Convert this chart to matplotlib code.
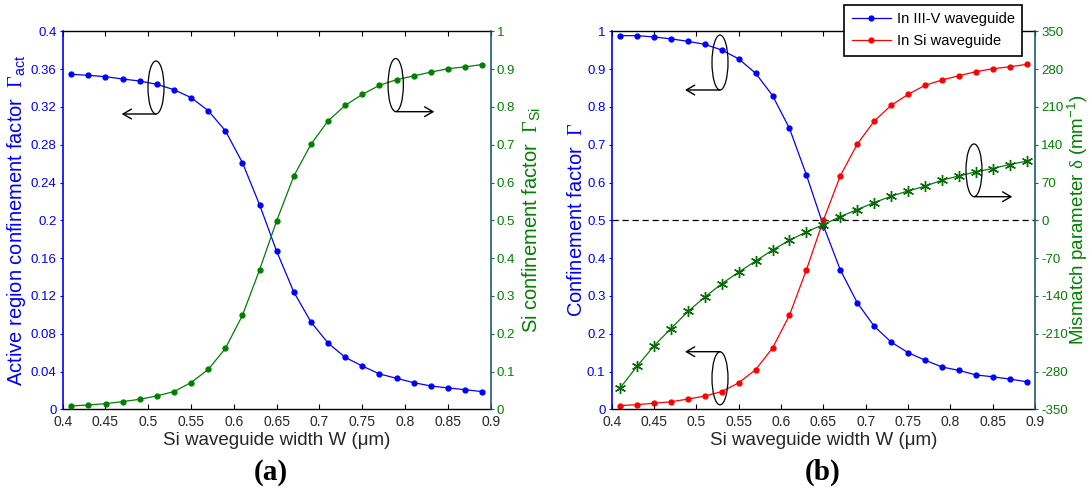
import matplotlib
matplotlib.use("Agg")
import matplotlib.pyplot as plt
from matplotlib.patches import Ellipse, FancyArrowPatch
import numpy as np

plt.rcParams['font.family'] = ['Liberation Sans', 'DejaVu Sans']
plt.rcParams['mathtext.fontset'] = 'custom'
plt.rcParams['mathtext.rm'] = 'Liberation Sans'
plt.rcParams['mathtext.it'] = 'Liberation Sans:italic'
plt.rcParams['mathtext.sf'] = 'Liberation Serif'

# ---------------- data ----------------
width_um = [0.41, 0.43, 0.45, 0.47, 0.49, 0.51, 0.53, 0.55, 0.57, 0.59, 0.61, 0.63,
            0.65, 0.67, 0.69, 0.71, 0.73, 0.75, 0.77, 0.79, 0.81, 0.83, 0.85, 0.87, 0.89]

# (a)
gamma_act = [0.3545, 0.3534, 0.352, 0.3495, 0.3474, 0.3439, 0.3382, 0.3298, 0.316, 0.2948,
             0.2609, 0.2164, 0.1671, 0.1241, 0.0924, 0.0701, 0.055, 0.0458, 0.0374, 0.0328,
             0.0282, 0.0247, 0.0226, 0.0208, 0.0187]
gamma_si_a = [0.0088, 0.0115, 0.015, 0.0204, 0.0265, 0.0354, 0.0469, 0.0708, 0.1053, 0.161,
              0.2487, 0.369, 0.499, 0.617, 0.701, 0.763, 0.804, 0.833, 0.857, 0.872,
              0.882, 0.892, 0.901, 0.906, 0.912]

# (b)
gamma_iiiv = [0.9885, 0.9885, 0.985, 0.980, 0.9735, 0.9655, 0.9505, 0.927, 0.889, 0.830,
              0.743, 0.620, 0.486, 0.369, 0.282, 0.220, 0.178, 0.150, 0.130, 0.112,
              0.103, 0.091, 0.086, 0.080, 0.073]
gamma_si_b = [0.0097, 0.0124, 0.016, 0.020, 0.027, 0.035, 0.047, 0.070, 0.105, 0.162,
              0.249, 0.369, 0.500, 0.6175, 0.7014, 0.762, 0.804, 0.833, 0.857, 0.871,
              0.8825, 0.893, 0.901, 0.906, 0.9125]
delta_mm = [-310.4, -270.2, -232.5, -200.4, -168.8, -142.2, -117.5, -95.9, -75.4, -55.0,
            -37.0, -21.5, -8.0, 6.8, 19.8, 32.8, 44.5, 54.4, 63.1, 74.2,
            82.2, 89.7, 95.8, 103.3, 109.5]

xticks = [0.4, 0.45, 0.5, 0.55, 0.6, 0.65, 0.7, 0.75, 0.8, 0.85, 0.9]
xtick_labels = ['0.4', '0.45', '0.5', '0.55', '0.6', '0.65', '0.7', '0.75', '0.8', '0.85', '0.9']
yticks_act = [0, 0.04, 0.08, 0.12, 0.16, 0.2, 0.24, 0.28, 0.32, 0.36, 0.4]
yticks_act_labels = ['0', '0.04', '0.08', '0.12', '0.16', '0.2', '0.24', '0.28', '0.32', '0.36', '0.4']
yticks_frac = [0, 0.1, 0.2, 0.3, 0.4, 0.5, 0.6, 0.7, 0.8, 0.9, 1]
yticks_frac_labels = ['0', '0.1', '0.2', '0.3', '0.4', '0.5', '0.6', '0.7', '0.8', '0.9', '1']
yticks_delta = [-350, -280, -210, -140, -70, 0, 70, 140, 210, 280, 350]

# ---------------- style ----------------
BLUE = '#0000ff'
RED = '#ff0000'
GREEN = '#008000'
TEAL = '#1d5a78'
DARK = '#262626'
W, H = 1091, 491
LABEL_FS = 14.5
XLABEL_FS = 13.5

fig = plt.figure(figsize=(W / 100, H / 100), dpi=100)

def px_axes(l, t, r, b):
    return fig.add_axes([l / W, 1 - b / H, (r - l) / W, (b - t) / H])

def style_axes(ax, ax2, lcolor, rcolor):
    ax.set_xlim(0.4, 0.9)
    ax.set_xticks(xticks)
    ax.set_xticklabels(xtick_labels)
    ax.tick_params(axis='x', direction='in', top=True, length=3.5, width=0.8,
                   labelsize=10, labelcolor=DARK, pad=4)
    ax.tick_params(axis='y', direction='out', length=2.5, width=0.8, color=lcolor,
                   labelsize=9.5, labelcolor=lcolor, pad=2)
    ax2.tick_params(axis='y', direction='out', length=2.5, width=0.8, color=rcolor,
                    labelsize=9.5, labelcolor=GREEN, pad=2)
    for sp in ['top', 'bottom']:
        ax.spines[sp].set_color('black')
        ax.spines[sp].set_linewidth(1.0)
    ax.spines['left'].set_color(BLUE)
    ax.spines['left'].set_linewidth(1.2)
    ax.spines['right'].set_visible(False)
    for sp in ['top', 'bottom', 'left']:
        ax2.spines[sp].set_visible(False)
    ax2.spines['right'].set_color(rcolor)
    ax2.spines['right'].set_linewidth(1.2)

def fx(x):
    return x / W

def fy(y):
    return 1 - y / H

def ellipse_arrow(cx, cy, w, h, y_arrow, x_end):
    e = Ellipse((fx(cx), fy(cy)), w / W, h / H, transform=fig.transFigure,
                fill=False, edgecolor='black', linewidth=0.9, zorder=10)
    fig.add_artist(e)
    arr = FancyArrowPatch((fx(cx), fy(y_arrow)), (fx(x_end), fy(y_arrow)),
                          transform=fig.transFigure,
                          arrowstyle='->,head_length=6,head_width=3.5',
                          color='black', lw=1.0, shrinkA=0, shrinkB=0, zorder=10)
    fig.add_artist(arr)

# ---------------- (a) ----------------
axa = px_axes(62.7, 31.3, 490.7, 409.3)
axa2 = axa.twinx()
axa.plot(width_um, gamma_act, color=BLUE, lw=0.9, marker='o', ms=3.5)
axa2.plot(width_um, gamma_si_a, color=GREEN, lw=0.9, marker='o', ms=3.5)
axa.set_ylim(0, 0.4)
axa.set_yticks(yticks_act)
axa.set_yticklabels(yticks_act_labels)
axa2.set_ylim(0, 1)
axa2.set_yticks(yticks_frac)
axa2.set_yticklabels(yticks_frac_labels)
style_axes(axa, axa2, BLUE, TEAL)
axa.set_xlabel('Si waveguide width W (μm)', fontsize=XLABEL_FS, color=DARK)
axa.set_ylabel(r'Active region confinement factor  $\mathsf{\Gamma}_{\mathrm{act}}$',
               fontsize=LABEL_FS, color=BLUE)
axa2.set_ylabel(r'Si confinement factor  $\mathsf{\Gamma}_{\mathrm{Si}}$',
                fontsize=LABEL_FS, color=GREEN)

# ---------------- (b) ----------------
axb = px_axes(611.7, 31.3, 1035.0, 409.3)
axb2 = axb.twinx()
axb.axhline(0.5, color='black', lw=0.9, ls=(0, (5, 3)), zorder=1)
lb1, = axb.plot(width_um, gamma_iiiv, color=BLUE, lw=0.9, marker='o', ms=3.5,
                label='In III-V waveguide')
lb2, = axb.plot(width_um, gamma_si_b, color=RED, lw=0.9, marker='o', ms=3.5,
                label='In Si waveguide')
axb2.plot(width_um, delta_mm, color=GREEN, lw=0.9, marker=(6, 2, 0), ms=8,
          mec='#0a6a0a', mew=1.0)
axb.set_ylim(0, 1)
axb.set_yticks(yticks_frac)
axb.set_yticklabels(yticks_frac_labels)
axb2.set_ylim(-350, 350)
axb2.set_yticks(yticks_delta)
axb2.set_yticklabels([str(v) for v in yticks_delta])
style_axes(axb, axb2, BLUE, TEAL)
axb.set_xlabel('Si waveguide width W (μm)', fontsize=XLABEL_FS, color=DARK)
axb.set_ylabel(r'Confinement factor  $\mathsf{\Gamma}$', fontsize=LABEL_FS, color=BLUE)
axb2.set_ylabel(r'Mismatch parameter $\mathsf{\delta}$ (mm$^{-1}$)', fontsize=13.5,
                color=GREEN)

leg = axb.legend(handles=[lb1, lb2], loc='upper right',
                 bbox_to_anchor=(fx(1022), fy(5)), bbox_transform=fig.transFigure,
                 fontsize=10.5, frameon=True, fancybox=False, framealpha=1,
                 edgecolor='black', handlelength=2.7, borderpad=0.5,
                 labelspacing=0.55, handletextpad=0.4, borderaxespad=0)
leg.get_frame().set_linewidth(1.2)
leg.set_zorder(20)

# label positions
for ax, xc in [(axa, -0.107), (axb, -0.084)]:
    ax.yaxis.set_label_coords(xc, 0.5)
    ax.yaxis.label.set_va('center')
    ax.xaxis.set_label_coords(0.5, -0.083)
    ax.xaxis.label.set_va('center')
for ax, xc in [(axa2, 1.0965), (axb2, 1.102)]:
    ax.yaxis.set_label_coords(xc, 0.5)
    ax.yaxis.label.set_va('center')

fig.text(fx(271), fy(472), '(a)', fontsize=21, fontweight='bold',
         family='Liberation Serif', ha='center', va='center')
fig.text(fx(823), fy(472), '(b)', fontsize=21, fontweight='bold',
         family='Liberation Serif', ha='center', va='center')

# annotation ellipses with arrows
ellipse_arrow(156, 87.5, 16, 53, 114, 121.7)
ellipse_arrow(395.7, 85, 15.3, 53, 111.7, 434.3)
ellipse_arrow(720, 62.5, 16, 55, 90, 685)
ellipse_arrow(720, 378.3, 16, 53, 351.7, 685)
ellipse_arrow(974, 170.3, 16, 52.7, 196.7, 1012.3)

fig.savefig('out.png', dpi=100)
